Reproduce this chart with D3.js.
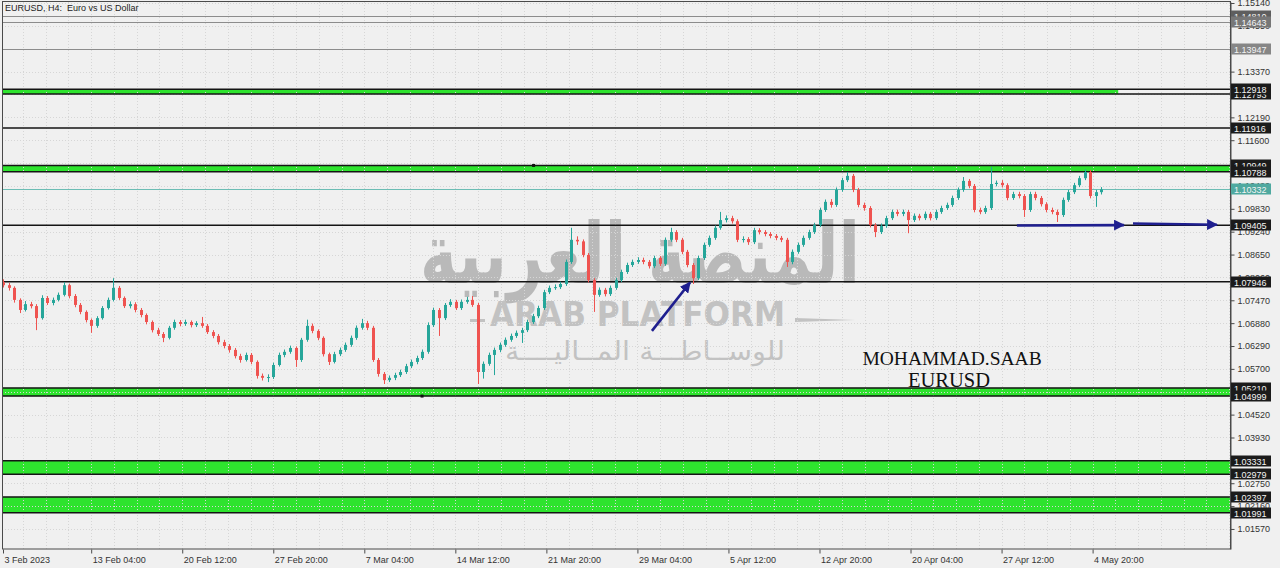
<!DOCTYPE html>
<html><head><meta charset="utf-8">
<script src="https://cdn.jsdelivr.net/npm/d3@7"></script>
<style>
html,body{margin:0;padding:0;background:#f0f0f0;overflow:hidden;}
svg{display:block;}
</style></head><body>
<svg id="c" width="1280" height="568"></svg>
<script>
// ---------- DATA ----------
const opens = [1.0794,1.0786,1.0779,1.0748,1.0722,1.0737,1.0732,1.0701,1.0753,1.0740,
1.0748,1.0761,1.0786,1.0758,1.0735,1.0717,1.0696,1.0681,1.0701,1.0727,
1.0748,1.0779,1.0753,1.0732,1.0737,1.0722,1.0709,1.0691,1.0670,1.0660,
1.0650,1.0676,1.0691,1.0686,1.0691,1.0683,1.0688,1.0681,1.0665,1.0655,
1.0639,1.0629,1.0619,1.0603,1.0593,1.0606,1.0588,1.0552,1.0547,1.0549,
1.0580,1.0606,1.0614,1.0624,1.0593,1.0645,1.0681,1.0668,1.0650,1.0608,
1.0588,1.0608,1.0619,1.0632,1.0650,1.0676,1.0688,1.0676,1.0593,1.0557,
1.0541,1.0547,1.0554,1.0562,1.0577,1.0588,1.0598,1.0614,1.0683,1.0722,
1.0701,1.0735,1.0743,1.0727,1.0743,1.0748,1.0735,1.0562,1.0583,1.0606,
1.0619,1.0632,1.0645,1.0655,1.0663,1.0670,1.0691,1.0706,1.0727,1.0768,
1.0779,1.0781,1.0789,1.0846,1.0903,1.0899,1.0864,1.0799,1.0761,1.0774,
1.0763,1.0779,1.0799,1.0820,1.0838,1.0846,1.0851,1.0846,1.0835,1.0856,
1.0841,1.0903,1.0923,1.0903,1.0872,1.0838,1.0804,1.0856,1.0890,1.0908,
1.0934,1.0954,1.0959,1.0951,1.0903,1.0905,1.0897,1.0928,1.0923,1.0918,
1.0913,1.0908,1.0903,1.0846,1.0872,1.0890,1.0908,1.0923,1.0941,1.0980,
1.1001,1.0993,1.1032,1.1057,1.1068,1.1032,1.0993,1.0985,1.0941,1.0923,
1.0939,1.0959,1.0975,1.0970,1.0975,1.0954,1.0965,1.0959,1.0970,1.0959,
1.0975,1.0985,1.0993,1.1011,1.1032,1.1055,1.1042,1.0980,1.0975,1.0985,
1.1047,1.1050,1.1044,1.1011,1.1021,1.1016,1.0980,1.1021,1.1011,1.0995,
1.0980,1.0975,1.0967,1.1006,1.1026,1.1044,1.1062,1.1078,1.1016,1.1026];
const highs = [1.0801,1.0792,1.0783,1.0752,1.0745,1.0743,1.0737,1.0760,1.0758,1.0754,
1.0767,1.0794,1.0790,1.0763,1.0740,1.0721,1.0700,1.0706,1.0732,1.0754,
1.0804,1.0784,1.0757,1.0744,1.0742,1.0727,1.0713,1.0695,1.0676,1.0665,
1.0681,1.0697,1.0696,1.0697,1.0695,1.0693,1.0704,1.0686,1.0670,1.0660,
1.0645,1.0634,1.0624,1.0609,1.0612,1.0611,1.0592,1.0558,1.0556,1.0586,
1.0612,1.0620,1.0630,1.0628,1.0650,1.0697,1.0687,1.0672,1.0654,1.0612,
1.0614,1.0625,1.0638,1.0656,1.0682,1.0699,1.0694,1.0681,1.0598,1.0562,
1.0553,1.0560,1.0568,1.0583,1.0594,1.0604,1.0620,1.0690,1.0728,1.0727,
1.0740,1.0750,1.0748,1.0749,1.0756,1.0758,1.0740,1.0589,1.0612,1.0625,
1.0638,1.0651,1.0661,1.0669,1.0676,1.0697,1.0712,1.0733,1.0774,1.0785,
1.0788,1.0795,1.0852,1.0934,1.0912,1.0904,1.0869,1.0804,1.0780,1.0779,
1.0785,1.0805,1.0826,1.0844,1.0852,1.0858,1.0857,1.0851,1.0862,1.0861,
1.0909,1.0934,1.0928,1.0908,1.0877,1.0843,1.0862,1.0896,1.0914,1.0940,
1.0975,1.0966,1.0965,1.0956,1.0912,1.0910,1.0934,1.0933,1.0928,1.0923,
1.0918,1.0913,1.0908,1.0878,1.0896,1.0914,1.0929,1.0947,1.0986,1.1007,
1.1008,1.1038,1.1063,1.1078,1.1073,1.1037,1.0999,1.0990,1.0946,1.0945,
1.0965,1.0981,1.0981,1.0981,1.0980,1.0971,1.0970,1.0976,1.0975,1.0981,
1.0991,1.0999,1.1017,1.1038,1.1065,1.1060,1.1047,1.0986,1.0991,1.1091,
1.1056,1.1057,1.1049,1.1027,1.1027,1.1021,1.1027,1.1027,1.1016,1.1000,
1.0986,1.0981,1.1012,1.1032,1.1050,1.1068,1.1085,1.1083,1.1032,1.1039];
const lows = [1.0780,1.0772,1.0741,1.0714,1.0718,1.0726,1.0670,1.0697,1.0735,1.0734,
1.0744,1.0757,1.0752,1.0729,1.0711,1.0690,1.0663,1.0676,1.0697,1.0723,
1.0744,1.0748,1.0727,1.0726,1.0716,1.0703,1.0685,1.0664,1.0655,1.0639,
1.0646,1.0671,1.0680,1.0681,1.0677,1.0678,1.0676,1.0660,1.0649,1.0633,
1.0623,1.0612,1.0597,1.0586,1.0589,1.0582,1.0545,1.0540,1.0536,1.0544,
1.0576,1.0600,1.0609,1.0575,1.0588,1.0640,1.0662,1.0644,1.0602,1.0580,
1.0584,1.0603,1.0614,1.0627,1.0645,1.0671,1.0670,1.0588,1.0550,1.0531,
1.0536,1.0541,1.0549,1.0557,1.0572,1.0582,1.0593,1.0609,1.0678,1.0655,
1.0696,1.0730,1.0722,1.0722,1.0738,1.0730,1.0531,1.0545,1.0578,1.0554,
1.0613,1.0627,1.0640,1.0650,1.0637,1.0665,1.0686,1.0701,1.0722,1.0763,
1.0774,1.0776,1.0784,1.0841,1.0890,1.0858,1.0793,1.0717,1.0756,1.0757,
1.0758,1.0774,1.0794,1.0815,1.0833,1.0841,1.0840,1.0829,1.0830,1.0835,
1.0836,1.0898,1.0897,1.0866,1.0832,1.0789,1.0799,1.0851,1.0885,1.0903,
1.0929,1.0948,1.0945,1.0897,1.0896,1.0890,1.0892,1.0917,1.0912,1.0907,
1.0902,1.0897,1.0833,1.0840,1.0867,1.0885,1.0903,1.0918,1.0936,1.0975,
1.0986,1.0988,1.1027,1.1052,1.1026,1.0987,1.0978,1.0935,1.0910,1.0918,
1.0934,1.0954,1.0964,1.0964,1.0920,1.0949,1.0953,1.0954,1.0953,1.0954,
1.0970,1.0980,1.0988,1.1006,1.1027,1.1036,1.0974,1.0969,1.0970,1.0980,
1.1041,1.1038,1.1005,1.1006,1.1010,1.0962,1.0975,1.1005,1.0989,1.0974,
1.0969,1.0949,1.0962,1.1001,1.1021,1.1039,1.1057,1.1010,1.0988,1.1020];
const closes = [1.0786,1.0779,1.0748,1.0722,1.0737,1.0732,1.0701,1.0753,1.0740,1.0748,
1.0761,1.0786,1.0758,1.0735,1.0717,1.0696,1.0681,1.0701,1.0727,1.0748,
1.0779,1.0753,1.0732,1.0737,1.0722,1.0709,1.0691,1.0670,1.0660,1.0650,
1.0676,1.0691,1.0686,1.0691,1.0683,1.0688,1.0681,1.0665,1.0655,1.0639,
1.0629,1.0619,1.0603,1.0593,1.0606,1.0588,1.0552,1.0547,1.0549,1.0580,
1.0606,1.0614,1.0624,1.0593,1.0645,1.0681,1.0668,1.0650,1.0608,1.0588,
1.0608,1.0619,1.0632,1.0650,1.0676,1.0688,1.0676,1.0593,1.0557,1.0541,
1.0547,1.0554,1.0562,1.0577,1.0588,1.0598,1.0614,1.0683,1.0722,1.0701,
1.0735,1.0743,1.0727,1.0743,1.0748,1.0735,1.0562,1.0583,1.0606,1.0619,
1.0632,1.0645,1.0655,1.0663,1.0670,1.0691,1.0706,1.0727,1.0768,1.0779,
1.0781,1.0789,1.0846,1.0903,1.0899,1.0864,1.0799,1.0761,1.0774,1.0763,
1.0779,1.0799,1.0820,1.0838,1.0846,1.0851,1.0846,1.0835,1.0856,1.0841,
1.0903,1.0923,1.0903,1.0872,1.0838,1.0804,1.0856,1.0890,1.0908,1.0934,
1.0954,1.0959,1.0951,1.0903,1.0905,1.0897,1.0928,1.0923,1.0918,1.0913,
1.0908,1.0903,1.0846,1.0872,1.0890,1.0908,1.0923,1.0941,1.0980,1.1001,
1.0993,1.1032,1.1057,1.1068,1.1032,1.0993,1.0985,1.0941,1.0923,1.0939,
1.0959,1.0975,1.0970,1.0975,1.0954,1.0965,1.0959,1.0970,1.0959,1.0975,
1.0985,1.0993,1.1011,1.1032,1.1055,1.1042,1.0980,1.0975,1.0985,1.1047,
1.1050,1.1044,1.1011,1.1021,1.1016,1.0980,1.1021,1.1011,1.0995,1.0980,
1.0975,1.0967,1.1006,1.1026,1.1044,1.1062,1.1078,1.1016,1.1026,1.1033];

const yTickValues = [1.15140,1.14550,1.13960,1.13370,1.12780,1.12190,1.11600,1.11010,1.10420,1.09830,1.09240,1.08650,1.08060,1.07470,1.06880,1.06290,1.05700,1.05110,1.04520,1.03930,1.03340,1.02750,1.02160,1.01570];
const xTickBars = [0,31,63,95,127,159,191,223,255,287,319,351,383];
const xTickLabels = ["3 Feb 2023","13 Feb 04:00","20 Feb 12:00","27 Feb 20:00","7 Mar 04:00","14 Mar 12:00","21 Mar 20:00","29 Mar 04:00","5 Apr 12:00","12 Apr 20:00","20 Apr 04:00","27 Apr 12:00","4 May 20:00"];

// support / resistance zones (green rectangles)
const zoneTops    = [1.12918,1.10949,1.05210,1.03331,1.02397];
const zoneBottoms = [1.12793,1.10788,1.04999,1.02979,1.01991];
const zoneEndBars = [392,null,null,null,null];
// single horizontal lines
const blackLevels = [1.11916,1.09405,1.07946];
const grayLevels  = [1.14810,1.14643,1.13947];
const currentPrice = 1.10332;
// right-axis price tags (drawing order)
const tagValues = [1.14810,1.14643,1.13947,1.12793,1.12918,1.11916,1.10949,1.10788,1.10332,1.09405,1.07946,1.05210,1.04999,1.03331,1.02979,1.02397,1.01991];
const tagKinds  = ["g1","g2","g3","b","b","b","b","b","t","b","b","b","b","b","b","b","b"];

// ---------- LAYOUT ----------
const plot = {l:2, t:2, r:1230, b:549};
const barsPerCandle = 1.94;
const svg = d3.select("#c");
const y = d3.scaleLinear().domain([1.01053,1.15166]).range([plot.b, plot.t]);
const xBar = d3.scaleLinear().domain([0,383]).range([3,1092.6]);
const cx = i => xBar(i*barsPerCandle);

const C = {bg:"#f0f0f0", grid:"#d6d6d6", frame:"#4a4a4a", bull:"#26a69a", bear:"#ef5350",
           zone:"#2ee32e", black:"#141414", gray:"#8c8c8c", teal:"#6cbdb4", arrow:"#1f1f8f"};

svg.append("rect").attr("width",1280).attr("height",568).attr("fill",C.bg);

svg.append("clipPath").attr("id","clip").append("rect")
  .attr("x",plot.l).attr("y",plot.t).attr("width",plot.r-plot.l).attr("height",plot.b-plot.t);
const P = svg.append("g").attr("clip-path","url(#clip)");

// watermark
const wm = P.append("g").attr("fill","#b9b9b9");
wm.append("text").attr("x",420).attr("y",283).attr("font-family","DejaVu Sans").attr("font-weight","bold")
  .attr("font-size",84).attr("textLength",440).attr("lengthAdjust","spacingAndGlyphs")
  .text("المنصة العربية");
wm.append("text").attr("x",490).attr("y",326).attr("font-family","DejaVu Sans").attr("font-weight","bold")
  .attr("font-size",34).attr("textLength",295).attr("lengthAdjust","spacingAndGlyphs").attr("fill","#c2c2c2").text("ARAB PLATFORM");
wm.append("rect").attr("x",470).attr("y",319).attr("width",15).attr("height",3).attr("fill","#c2c2c2");
wm.append("path").attr("d","M795,318 L855,320 L795,322 Z").attr("fill","#c2c2c2");
wm.append("text").attr("x",505).attr("y",360).attr("font-family","DejaVu Sans").attr("fill","#c2c2c2")
  .attr("font-size",26).attr("textLength",280).attr("lengthAdjust","spacingAndGlyphs").text("للوســاطـــة المــاليــــة");

// zones
zoneTops.forEach((t,k)=>{
  const x1 = zoneEndBars[k]==null ? plot.r : xBar(zoneEndBars[k]);
  P.append("rect").attr("x",plot.l).attr("y",y(t)).attr("width",x1-plot.l).attr("height",y(zoneBottoms[k])-y(t)).attr("fill",C.zone);
});

// grid
const gridG = P.append("g").attr("stroke",C.grid).attr("stroke-dasharray","1,2").attr("stroke-width",1);
yTickValues.forEach(v=>{
  gridG.append("line").attr("x1",plot.l).attr("x2",plot.r).attr("y1",Math.round(y(v))+0.5).attr("y2",Math.round(y(v))+0.5);
});
d3.range(-1,440,8).forEach(b=>{
  const gx = Math.round(xBar(b))+0.5;
  gridG.append("line").attr("x1",gx).attr("x2",gx).attr("y1",plot.t).attr("y2",plot.b);
});

// zone borders
zoneTops.forEach((t,k)=>{
  [t,zoneBottoms[k]].forEach(v=>{
    P.append("line").attr("x1",plot.l).attr("x2",plot.r).attr("y1",y(v)).attr("y2",y(v)).attr("stroke",C.black).attr("stroke-width",1.5);
  });
});
blackLevels.forEach(v=>P.append("line").attr("x1",plot.l).attr("x2",plot.r).attr("y1",y(v)).attr("y2",y(v)).attr("stroke",C.black).attr("stroke-width",1.5));
grayLevels.forEach(v=>P.append("line").attr("x1",plot.l).attr("x2",plot.r).attr("y1",Math.round(y(v))+0.5).attr("y2",Math.round(y(v))+0.5).attr("stroke",C.gray).attr("stroke-width",1));
P.append("line").attr("x1",plot.l).attr("x2",plot.r).attr("y1",Math.round(y(currentPrice))+0.5).attr("y2",Math.round(y(currentPrice))+0.5).attr("stroke",C.teal).attr("stroke-width",1);

// candles
const candles = closes.map((c,i)=>({i,o:opens[i],h:highs[i],l:lows[i],c}));
const cg = P.append("g");
cg.selectAll("line.w").data(candles).join("line").attr("class","w")
  .attr("x1",d=>Math.round(cx(d.i))+0.5).attr("x2",d=>Math.round(cx(d.i))+0.5)
  .attr("y1",d=>y(d.h)).attr("y2",d=>y(d.l))
  .attr("stroke",d=>d.c>=d.o?C.bull:C.bear).attr("stroke-width",1);
cg.selectAll("rect.b").data(candles).join("rect").attr("class","b")
  .attr("x",d=>Math.round(cx(d.i))-1).attr("width",3)
  .attr("y",d=>y(Math.max(d.o,d.c))).attr("height",d=>Math.max(1,Math.abs(y(d.o)-y(d.c))))
  .attr("fill",d=>d.c>=d.o?C.bull:C.bear);

// small anchor markers
[[186.5,1.10949],[147.3,1.04999]].forEach(([b,v])=>{
  P.append("rect").attr("x",xBar(b)-1.5).attr("y",y(v)-1.5).attr("width",3).attr("height",3).attr("fill","#111");
});

// arrows
const defs = svg.append("defs");
defs.append("marker").attr("id","ah").attr("viewBox","0 0 10 10").attr("refX",9).attr("refY",5)
  .attr("markerWidth",4.2).attr("markerHeight",4.2).attr("orient","auto").attr("markerUnits","strokeWidth")
  .append("path").attr("d","M0,0 L10,5 L0,10 Z").attr("fill",C.arrow);
const arrows = [[228.1,1.0668,241.5,1.0793],[356.4,1.0940,394.0,1.0941],[397.2,1.0945,426.7,1.0942]];
arrows.forEach(([b1,v1,b2,v2])=>{
  P.append("line").attr("x1",xBar(b1)).attr("y1",y(v1)).attr("x2",xBar(b2)).attr("y2",y(v2))
   .attr("stroke",C.arrow).attr("stroke-width",2.6).attr("marker-end","url(#ah)");
});

// signature text
P.append("text").attr("x",xBar(333.6)).attr("y",y(1.0580)).attr("text-anchor","middle")
  .attr("font-family","Liberation Serif").attr("font-size",19.5).attr("fill","#111").text("MOHAMMAD.SAAB");
P.append("text").attr("x",xBar(332.5)).attr("y",y(1.0522)).attr("text-anchor","middle")
  .attr("font-family","Liberation Serif").attr("font-size",20.5).attr("fill","#111").text("EURUSD");

// frame
svg.append("rect").attr("x",plot.l+0.5).attr("y",plot.t-0.5).attr("width",plot.r-plot.l).attr("height",plot.b-plot.t+0.5)
  .attr("fill","none").attr("stroke",C.frame).attr("stroke-width",1);

// title
svg.append("text").attr("x",5).attr("y",11).attr("font-family","Liberation Sans").attr("font-size",9).attr("fill","#222")
  .attr("xml:space","preserve").style("white-space","pre").text("EURUSD, H4:  Euro vs US Dollar");

// right axis
const ya = svg.append("g").attr("transform",`translate(${plot.r+0.5},0)`)
  .call(d3.axisRight(y).tickValues(yTickValues).tickFormat(d3.format(".5f")).tickSize(4).tickSizeOuter(0).tickPadding(3));
ya.select(".domain").attr("stroke",C.frame);
ya.selectAll(".tick line").attr("stroke",C.frame);
ya.selectAll(".tick text").attr("font-family","Liberation Sans").attr("font-size",9).attr("fill","#333");
// tick labels completely covered by a price tag are not shown (as in the terminal)
ya.selectAll(".tick").filter(d=>tagValues.some(v=>Math.abs(y(v)-y(d))<3.2)).select("text").remove();

// bottom axis
const xa = svg.append("g").attr("transform",`translate(0,${plot.b+0.5})`)
  .call(d3.axisBottom(xBar).tickValues(xTickBars).tickFormat((d,i)=>xTickLabels[i]).tickSize(4).tickSizeOuter(0).tickPadding(3));
xa.select(".domain").remove();
xa.selectAll(".tick line").attr("stroke",C.frame);
xa.selectAll(".tick text").attr("font-family","Liberation Sans").attr("font-size",9).attr("fill","#333")
  .attr("text-anchor","start").attr("x",1);

// price tags
const tagFill = {g1:"#5e5e5e", g2:"#777777", g3:"#868686", b:"#1b1b1b", t:"#4fa9a0"};
const tg = svg.append("g");
tagValues.forEach((v,k)=>{
  const yy = Math.round(y(v));
  tg.append("rect").attr("x",plot.r+1).attr("y",yy-5.5).attr("width",40).attr("height",11).attr("fill",tagFill[tagKinds[k]]);
  tg.append("text").attr("x",plot.r+4).attr("y",yy+3.5).attr("font-family","Liberation Sans").attr("font-size",9)
    .attr("fill","#f4f4f4").text(d3.format(".5f")(v));
});
</script>
</body></html>
